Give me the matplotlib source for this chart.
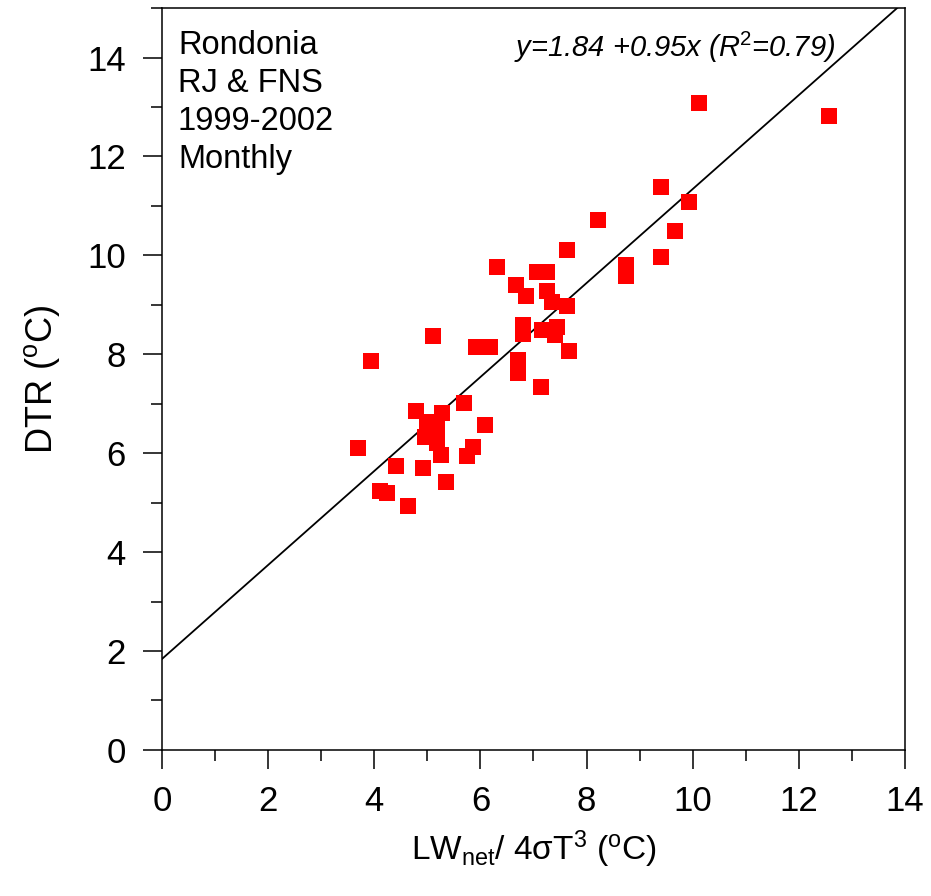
import matplotlib
matplotlib.use("Agg")
import matplotlib.pyplot as plt
import numpy as np
from matplotlib.ticker import MultipleLocator

plt.rcParams['font.family'] = ['Liberation Sans', 'DejaVu Sans']
plt.rcParams['mathtext.fontset'] = 'custom'
plt.rcParams['mathtext.rm'] = 'Liberation Sans'
plt.rcParams['mathtext.it'] = 'Liberation Sans:italic'

# monthly values
lw_net = [10.12, 12.57, 9.40, 8.22, 9.93, 9.67, 7.63, 9.40, 8.74, 8.74,
          6.31, 7.07, 7.25, 6.67, 6.86, 7.25, 7.35, 7.63, 6.80, 6.80,
          7.16, 7.44, 7.40, 7.67, 5.11, 5.92, 6.18, 3.94, 6.71, 6.71,
          7.14, 5.69, 4.79, 5.28, 4.99, 6.09, 5.18, 4.96, 5.18, 5.86,
          5.26, 5.75, 3.70, 4.41, 4.92, 5.35, 4.11, 4.24, 4.64]
dtr = [13.09, 12.81, 11.39, 10.71, 11.07, 10.50, 10.11, 9.97, 9.81, 9.59,
       9.77, 9.67, 9.67, 9.41, 9.18, 9.27, 9.06, 8.98, 8.60, 8.40,
       8.50, 8.56, 8.38, 8.07, 8.36, 8.15, 8.15, 7.87, 7.89, 7.63,
       7.34, 7.02, 6.86, 6.82, 6.64, 6.56, 6.53, 6.33, 6.21, 6.13,
       5.97, 5.95, 6.11, 5.75, 5.71, 5.42, 5.24, 5.20, 4.94]

intercept = 1.84
slope = 0.95

fig = plt.figure(figsize=(9.31, 8.96), dpi=100)
ax = fig.add_axes([0.174, 0.163, 0.798, 0.828])

ax.plot(lw_net, dtr, linestyle='none', marker='s', markersize=11.5,
        color='#ff0000', markeredgewidth=0, zorder=3)

# regression line
xx = np.array([0, 14])
ax.plot(xx, intercept + slope * xx, color='black', linewidth=1.3, zorder=2)

ax.set_xlim(0, 14)
ax.set_ylim(0, 15)
ax.xaxis.set_major_locator(MultipleLocator(2))
ax.xaxis.set_minor_locator(MultipleLocator(1))
ax.yaxis.set_major_locator(MultipleLocator(2))
ax.yaxis.set_minor_locator(MultipleLocator(1))
ax.tick_params(which='major', direction='out', length=14, width=1.1,
               labelsize=25, top=False, right=False)
ax.tick_params(which='minor', direction='out', length=8, width=1.1,
               top=False, right=False)
ax.tick_params(axis='x', which='major', pad=11)
ax.tick_params(axis='y', which='major', pad=12)
for s in ax.spines.values():
    s.set_linewidth(1.1)

ax.set_xlabel(r'LW$_{\rm net}$/ 4σT$^{3}$ ($^{\rm o}$C)', fontsize=24, labelpad=8)
ax.set_ylabel(r'DTR ($^{\rm o}$C)', fontsize=26, labelpad=18)

info = ['Rondonia', 'RJ & FNS', '1999-2002', 'Monthly']
for i, line in enumerate(info):
    ax.text(0.30, 14.08 - 0.77 * i, line, fontsize=23.5, ha='left', va='baseline')

ax.text(12.68, 14.02, r'y=1.84 +0.95x (R$^{2}$=0.79)', fontsize=21,
        style='italic', ha='right', va='baseline')

fig.savefig('out.png', dpi=100)
